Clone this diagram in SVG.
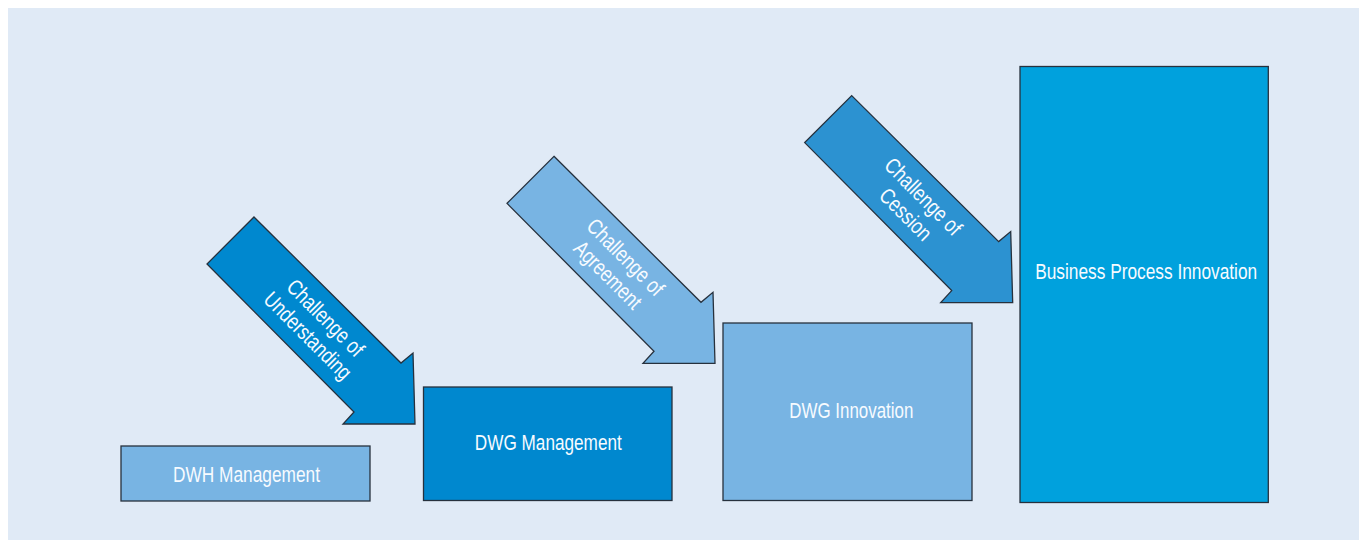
<svg xmlns="http://www.w3.org/2000/svg" width="1359" height="540" viewBox="0 0 1359 540">
  <style>
    .box { stroke: #27313d; stroke-width: 1.3; }
    .arrow { stroke: #27313d; stroke-width: 1.3; stroke-linejoin: miter; }
    .light { fill: #78b4e3; }
    .dark { fill: #0088cf; }
    .mid { fill: #2c92d1; }
    .cyan { fill: #00a1dd; }
    .label { font-family: "Liberation Sans", Arial, sans-serif; font-size: 22px; fill: #f7fbff; text-anchor: middle; }
  </style>
  <defs>
    <!-- block arrow pointing down-right, shared by all three challenges -->
    <path id="challengeArrow" d="M254,217 L401,363 L413,353 L415,424 L343,424 L354,412 L207,264 Z"/>
  </defs>

  <rect x="0" y="0" width="1359" height="540" fill="#ffffff"/>
  <rect x="8" y="8" width="1351" height="532" fill="#e0eaf6"/>

  <g id="connectors">
    <g id="arrow-understanding">
      <use href="#challengeArrow" class="arrow dark"/>
      <g transform="translate(316.7,326.8) rotate(45)">
        <text class="label" x="0" y="-5" textLength="99" lengthAdjust="spacingAndGlyphs">Challenge of</text>
        <text class="label" x="0" y="20" textLength="114" lengthAdjust="spacingAndGlyphs">Understanding</text>
      </g>
    </g>
    <g id="arrow-agreement" transform="translate(300,-60.7)">
      <use href="#challengeArrow" class="arrow light"/>
      <g transform="translate(316.7,326.8) rotate(45)">
        <text class="label" x="0" y="-5" textLength="99" lengthAdjust="spacingAndGlyphs">Challenge of</text>
        <text class="label" x="0" y="20" textLength="86" lengthAdjust="spacingAndGlyphs">Agreement</text>
      </g>
    </g>
    <g id="arrow-cession" transform="translate(597.7,-121.4)">
      <use href="#challengeArrow" class="arrow mid"/>
      <g transform="translate(316.7,326.8) rotate(45)">
        <text class="label" x="0" y="-5" textLength="99" lengthAdjust="spacingAndGlyphs">Challenge of</text>
        <text class="label" x="0" y="20" textLength="64" lengthAdjust="spacingAndGlyphs">Cession</text>
      </g>
    </g>
  </g>

  <g id="dwh-management">
    <rect class="box light" x="121" y="446" width="249" height="55"/>
    <text class="label" x="246.5" y="482.3" textLength="147" lengthAdjust="spacingAndGlyphs">DWH Management</text>
  </g>
  <g id="dwg-management">
    <rect class="box dark" x="423.5" y="387" width="248.5" height="113.5"/>
    <text class="label" x="548.3" y="450" textLength="147" lengthAdjust="spacingAndGlyphs">DWG Management</text>
  </g>
  <g id="dwg-innovation">
    <rect class="box light" x="723" y="323" width="249" height="177.5"/>
    <text class="label" x="851.3" y="418.3" textLength="124" lengthAdjust="spacingAndGlyphs">DWG Innovation</text>
  </g>
  <g id="business-process-innovation">
    <rect class="box cyan" x="1020" y="66.5" width="248.3" height="436"/>
    <text class="label" x="1146.2" y="279" textLength="222" lengthAdjust="spacingAndGlyphs">Business Process Innovation</text>
  </g>
</svg>
